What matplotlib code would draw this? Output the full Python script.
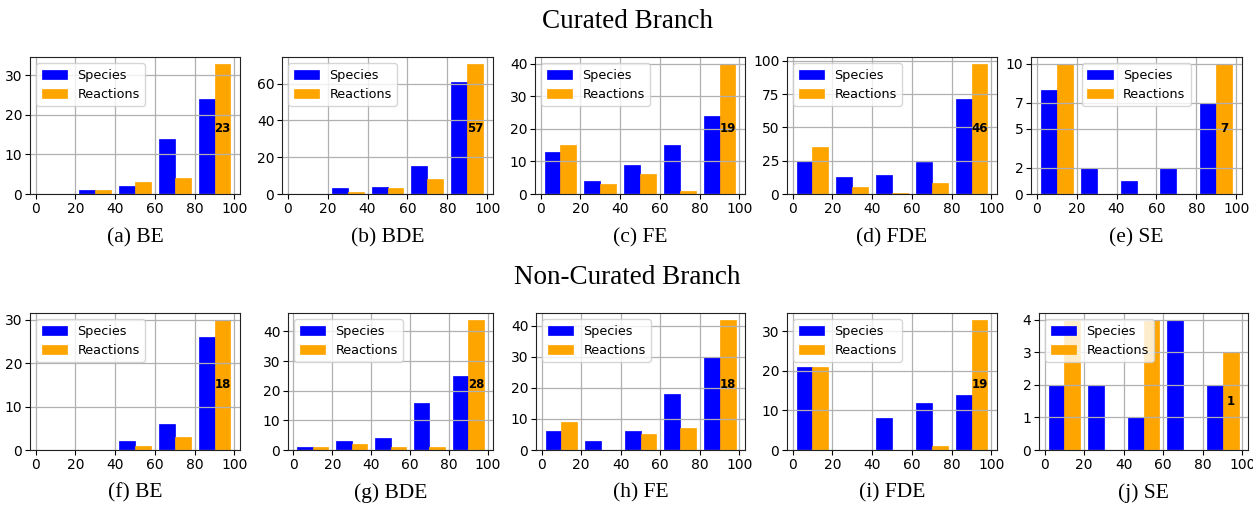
import matplotlib
matplotlib.use("Agg")
import matplotlib.pyplot as plt
import numpy as np

W, H = 1253, 505
bins = [0, 20, 40, 60, 80, 100]
bin_centers = [10, 30, 50, 70, 90]

panel_labels = ["(a) BE", "(b) BDE", "(c) FE", "(d) FDE", "(e) SE",
                "(f) BE", "(g) BDE", "(h) FE", "(i) FDE", "(j) SE"]

species = [
    [0, 1, 2, 14, 24],
    [0, 3, 4, 15, 61],
    [13, 4, 9, 15, 24],
    [25, 13, 14, 24, 71],
    [8, 2, 1, 2, 7],
    [0, 0, 2, 6, 26],
    [1, 3, 4, 16, 25],
    [6, 3, 6, 18, 30],
    [21, 0, 8, 12, 14],
    [2, 2, 1, 4, 2],
]
reactions = [
    [0, 1, 3, 4, 33],
    [0, 1, 3, 8, 71],
    [15, 3, 6, 1, 40],
    [35, 5, 1, 8, 98],
    [10, 0, 0, 0, 10],
    [0, 0, 1, 3, 30],
    [1, 2, 1, 1, 44],
    [9, 0, 5, 7, 42],
    [21, 0, 0, 1, 33],
    [4, 0, 4, 0, 3],
]
annotations = [23, 57, 19, 46, 7, 18, 28, 18, 19, 1]
yticks = [
    [0, 10, 20, 30],
    [0, 20, 40, 60],
    [0, 10, 20, 30, 40],
    [0, 25, 50, 75, 100],
    [0, 2, 5, 7, 10],
    [0, 10, 20, 30],
    [0, 10, 20, 30, 40],
    [0, 10, 20, 30, 40],
    [0, 10, 20, 30],
    [0, 1, 2, 3, 4],
]
row_titles = ["Curated Branch", "Non-Curated Branch"]

# axes rectangles in pixel coords (left, top, right, bottom)
rects = [
    (30, 57, 240, 194), (282, 57, 493, 194), (535, 57, 745, 194),
    (787, 57, 997, 194), (1031, 57, 1242, 194),
    (30, 313, 240, 450), (288, 313, 493, 450), (536, 313, 745, 450),
    (787, 313, 997, 450), (1039, 313, 1248, 450),
]
legend_locs = ["upper left"] * 4 + ["upper center"] + ["upper left"] * 5

fig = plt.figure(figsize=(W / 100, H / 100), dpi=100)
serif = "Liberation Serif"

for i, (l, t, r, b) in enumerate(rects):
    ax = fig.add_axes([l / W, 1 - b / H, (r - l) / W, (b - t) / H])
    sp = np.repeat(bin_centers, species[i])
    re = np.repeat(bin_centers, reactions[i])
    _, _, patches = ax.hist([sp, re], bins=bins, rwidth=0.8,
                            color=["blue", "orange"],
                            label=["Species", "Reactions"])
    for pset, c in zip(patches, ["blue", "orange"]):
        for p in pset:
            p.set_edgecolor(c)
            p.set_linewidth(0.5)
    ax.set_yticks(yticks[i])
    ax.set_xticks([0, 20, 40, 60, 80, 100])
    ax.grid(True, color="#b0b0b0", linewidth=0.9)
    ax.tick_params(labelsize=10, length=3.5, pad=2)
    ax.legend(loc=legend_locs[i], fontsize=9.2)
    ax.text(94, reactions[i][-1] / 2, str(annotations[i]), ha="center",
            va="center", fontsize=8.5, fontweight="bold")
    ax.set_xlim(-2.8, 102.8)
    ax.set_ylim(0, max(max(species[i]), max(reactions[i])) * 1.05)
    for s in ax.spines.values():
        s.set_color("#222222")
    cy = 238 if i < 5 else 493
    fig.text(((l + r) / 2) / W, 1 - cy / H, panel_labels[i], ha="center",
             va="center", fontsize=15.5, family=serif)

fig.text(627 / W, 1 - 22 / H, row_titles[0], ha="center", va="center",
         fontsize=19.5, family=serif)
fig.text(627 / W, 1 - 278 / H, row_titles[1], ha="center", va="center",
         fontsize=19.5, family=serif)

fig.savefig("out.png", dpi=100)
